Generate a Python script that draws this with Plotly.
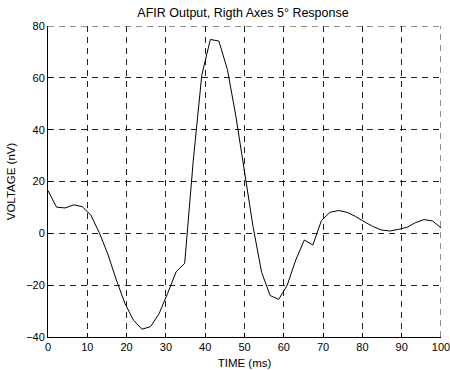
import plotly.graph_objects as go

# sample times: 47 samples over 0..100 ms
n_samples = 47
time_ms = [i * 100.0 / (n_samples - 1) for i in range(n_samples)]
voltage_nv = [
    16.5, 10.1, 9.8, 11.0, 10.3, 7.1, 0.3, -8.0, -18.0, -27.0,
    -33.5, -37.0, -36.0, -31.0, -23.2, -14.8, -11.6, 28.0, 61.0, 74.8,
    74.2, 63.2, 45.0, 23.0, 2.6, -15.0, -24.0, -25.5, -20.0, -10.3,
    -2.6, -4.5, 4.9, 8.1, 8.8, 8.1, 6.5, 4.5, 2.7, 1.3,
    0.9, 1.5, 2.3, 4.1, 5.3, 4.8, 2.1,
]
x_ticks = [0, 10, 20, 30, 40, 50, 60, 70, 80, 90, 100]
y_ticks = [-40, -20, 0, 20, 40, 60, 80]

title_text = "AFIR Output, Rigth Axes 5° Response"
x_title = "TIME (ms)"
y_title = "VOLTAGE (nV)"

FAM = "Liberation Sans, Arial, Helvetica"
GRID = "#222222"
DASH = "6px,5px"

fig = go.Figure()
fig.add_trace(go.Scatter(x=time_ms, y=voltage_nv, mode="lines",
                         line=dict(color="black", width=1), showlegend=False,
                         hoverinfo="skip"))

font = dict(family=FAM, size=11, color="black")
tfont = dict(family=FAM, size=11.5, color="black")
common = dict(showgrid=True, gridcolor=GRID, gridwidth=1, griddash=DASH,
              zeroline=False, showline=True, linecolor="black", linewidth=1,
              ticks="inside", ticklen=4, tickcolor="black", tickfont=font,
              automargin=False, ticklabeloverflow="allow")
mirror = dict(showgrid=False, zeroline=False, showline=False, ticks="inside",
              ticklen=4, tickcolor="black", showticklabels=False)

fig.update_layout(
    width=450, height=370,
    margin=dict(l=48, r=9, t=26, b=33),
    paper_bgcolor="white", plot_bgcolor="white",
    font=font,
    title=dict(text=title_text, x=0.54, xanchor="center", y=0.967, yanchor="middle",
               font=dict(family=FAM, size=12.5)),
    xaxis=dict(range=[0, 100], tickvals=x_ticks,
               title=dict(text=x_title, standoff=6, font=tfont), **common),
    yaxis=dict(range=[-40, 80], tickvals=y_ticks,
               title=dict(text=y_title, standoff=8, font=tfont), **common),
    xaxis2=dict(overlaying="x", side="top", anchor="y", range=[0, 100],
                tickvals=x_ticks, **mirror),
    yaxis2=dict(overlaying="y", side="right", anchor="x", range=[-40, 80],
                tickvals=y_ticks, **mirror),
)

# dashed grid lines along the top and right edges
fig.add_shape(type="line", xref="paper", yref="y", x0=0, x1=1,
              y0=y_ticks[-1], y1=y_ticks[-1],
              line=dict(color=GRID, width=1, dash=DASH))
fig.add_shape(type="line", xref="x", yref="paper", x0=x_ticks[-1], x1=x_ticks[-1],
              y0=0, y1=1, line=dict(color=GRID, width=1, dash=DASH))

fig.write_html("out.html", config={"displayModeBar": False},
               post_script="document.body.style.margin='0';document.body.style.overflow='hidden';")
